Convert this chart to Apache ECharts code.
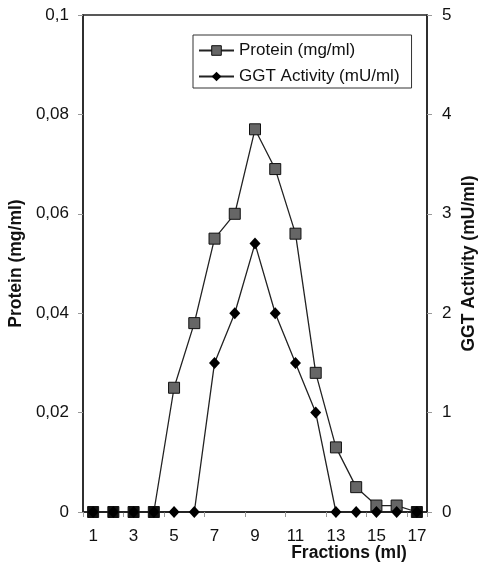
<!DOCTYPE html>
<html>
<head>
<meta charset="utf-8">
<script src="https://cdn.jsdelivr.net/npm/echarts@6/dist/echarts.min.js"></script>
<style>
  html, body { margin: 0; padding: 0; background: #fff; }
  #chart { width: 478px; height: 565px; }
</style>
</head>
<body>
<div id="chart"></div>
<script>
// fractions (ml)
var fractions = ['1','2','3','4','5','6','7','8','9','10','11','12','13','14','15','16','17'];
// protein (mg/ml), left axis
var protein = [0, 0, 0, 0, 0.025, 0.038, 0.055, 0.060, 0.077, 0.069, 0.056, 0.028, 0.013, 0.005, 0.0013, 0.0013, 0];
// GGT activity (mU/ml), right axis
var ggt = [0, 0, 0, 0, 0, 0, 1.5, 2, 2.7, 2, 1.5, 1, 0, 0, 0, 0, 0];
var proteinTicks = ['0', '0,02', '0,04', '0,06', '0,08', '0,1'];

var chart = echarts.init(document.getElementById('chart'));

var font = 'Liberation Sans, Arial, sans-serif';

var option = {
  animation: false,
  textStyle: { fontFamily: font },
  grid: {
    left: 83, right: 51, top: 15, bottom: 53,
    outerBoundsMode: 'none',
    show: true, borderColor: '#222', borderWidth: 1.5
  },
  legend: {
    orient: 'vertical',
    left: 193, top: 35,
    itemWidth: 35, itemHeight: 12, itemGap: 9,
    padding: [7, 12, 3, 5],
    borderColor: '#333', borderWidth: 1,
    textStyle: { fontSize: 17, color: '#111', fontFamily: font },
    data: [
      { name: 'Protein (mg/ml)', itemStyle: { color: '#666', borderColor: '#111', borderWidth: 1 } },
      { name: 'GGT Activity (mU/ml)' }
    ]
  },
  xAxis: {
    type: 'category',
    data: fractions,
    boundaryGap: true,
    name: 'Fractions (ml)',
    nameLocation: 'middle',
    nameGap: 32,
    nameMoveOverlap: false,
    nameTextStyle: { fontSize: 17.5, fontWeight: 'bold', color: '#111', padding: [0, 0, 0, 188] },
    axisLine: { lineStyle: { color: '#222', width: 1.5 } },
    axisTick: { show: true, length: 5, lineStyle: { color: '#999' } },
    axisLabel: { interval: 1, fontSize: 17, color: '#111', margin: 16 },
    splitLine: { show: false }
  },
  yAxis: [
    {
      type: 'value',
      min: 0, max: 0.1, interval: 0.02,
      name: 'Protein (mg/ml)',
      nameLocation: 'middle',
      nameGap: 58,
      nameMoveOverlap: false,
      nameTextStyle: { fontSize: 17.5, fontWeight: 'bold', color: '#111' },
      axisLine: { show: true, lineStyle: { color: '#222', width: 1.5 } },
      axisTick: { show: true, length: 5, lineStyle: { color: '#999' } },
      axisLabel: {
        fontSize: 17, color: '#111', margin: 14,
        formatter: function (v) { return proteinTicks[Math.round(v / 0.02)]; }
      },
      splitLine: { show: false }
    },
    {
      type: 'value',
      min: 0, max: 5, interval: 1,
      name: 'GGT Activity (mU/ml)',
      nameLocation: 'middle',
      nameGap: 33,
      nameRotate: 90,
      nameMoveOverlap: false,
      nameTextStyle: { fontSize: 17.5, fontWeight: 'bold', color: '#111' },
      axisLine: { show: true, lineStyle: { color: '#222', width: 1.5 } },
      axisTick: { show: true, length: 5, lineStyle: { color: '#999' } },
      axisLabel: { fontSize: 17, color: '#111', margin: 15 },
      splitLine: { show: false }
    }
  ],
  series: [
    {
      name: 'Protein (mg/ml)',
      type: 'line',
      yAxisIndex: 0,
      data: protein,
      symbol: 'rect',
      symbolSize: 11,
      lineStyle: { color: '#222', width: 1.3 },
      itemStyle: {
        // where both series sit on zero the overlapping marks print solid black
        color: function (p) {
          return (p.dataIndex !== undefined && protein[p.dataIndex] === 0 && ggt[p.dataIndex] === 0) ? '#111' : '#666';
        },
        borderColor: '#111', borderWidth: 1
      },
      z: 3
    },
    {
      name: 'GGT Activity (mU/ml)',
      type: 'line',
      yAxisIndex: 1,
      data: ggt,
      symbol: 'diamond',
      symbolSize: [11, 12],
      lineStyle: { color: '#222', width: 1.3 },
      itemStyle: { color: '#000', borderColor: '#000', borderWidth: 0 },
      z: 4
    }
  ]
};

chart.setOption(option);
</script>
</body>
</html>
